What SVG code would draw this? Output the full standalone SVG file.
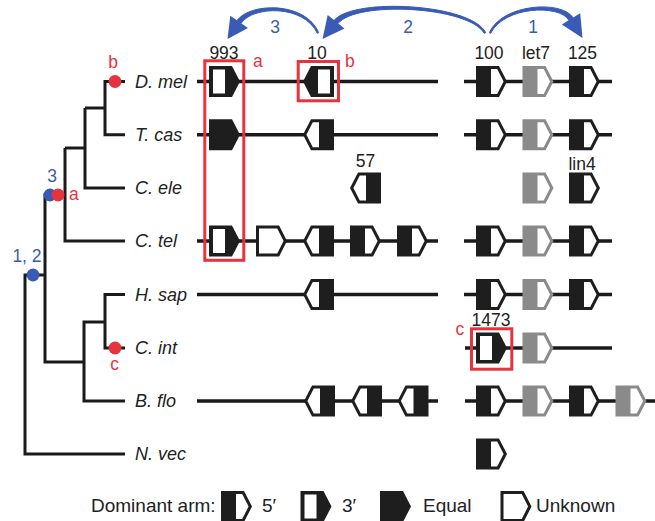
<svg xmlns="http://www.w3.org/2000/svg" xmlns:xlink="http://www.w3.org/1999/xlink" width="655" height="521" viewBox="0 0 655 521">
<style>
text{font-family:"Liberation Sans",Arial,Helvetica,sans-serif;fill:#222}
.num{font-size:17.5px;text-anchor:middle}
.sp{font-size:18px;font-style:italic}
.leg{font-size:19px}
.red{fill:#e5343d;font-size:17.5px}
.blue{fill:#3a5bb5;font-size:17.5px;text-anchor:middle}
.tree{fill:none;stroke:#1a1a1a;stroke-width:3;stroke-linejoin:miter}
.row{fill:none;stroke:#1a1a1a;stroke-width:3.5}
.box{fill:none;stroke:#e5343d;stroke-width:3}
.arc{fill:#3a5bb5;stroke:#3a5bb5;stroke-width:1;stroke-linejoin:round}
.head{fill:#3a5bb5}
</style>
<defs>
<path id="pent" d="M0,-15.5 H23 L31,0 L23,15.5 H0 Z"/>
<g id="f5"><use xlink:href="#pent" fill="#1e1e1e"/><path d="M15,-12.5 H21.2 L27.6,0 L21.2,12.5 H15 Z" fill="#fff"/></g>
<g id="g5"><use xlink:href="#pent" fill="#8a8a8a"/><path d="M15,-12.5 H21.2 L27.6,0 L21.2,12.5 H15 Z" fill="#fff"/></g>
<g id="f3"><use xlink:href="#pent" fill="#1e1e1e"/><rect x="4" y="-12" width="12" height="24" fill="#fff"/></g>
<g id="feq"><use xlink:href="#pent" fill="#1e1e1e"/></g>
<g id="fun"><path d="M1.5,-14 H22.2 L29.3,0 L22.2,14 H1.5 Z" fill="#fff" stroke="#1e1e1e" stroke-width="3"/></g>
</defs>

<g id="tree">
<path class="tree" d="M125,81.5 H105 V134.7 H125"/>
<path class="tree" d="M105,108 H85"/>
<path class="tree" d="M125,188 H85 V108"/>
<path class="tree" d="M85,148 H65"/>
<path class="tree" d="M125,241 H65 V148"/>
<path class="tree" d="M65,195 H45 V362 H84"/>
<path class="tree" d="M125,401 H84 V322 H105"/>
<path class="tree" d="M125,294.5 H105 V348 H125"/>
<path class="tree" d="M45,275 H25 V454 H125"/>
</g>

<g id="tree-markers">
<circle cx="115" cy="81.5" r="6.5" fill="#e5343d"/>
<text class="red" x="113" y="68" text-anchor="middle">b</text>
<circle cx="50" cy="195" r="6.5" fill="#3a5bb5"/>
<circle cx="58" cy="195" r="6.5" fill="#e5343d"/>
<text class="blue" x="52" y="182">3</text>
<text class="red" x="69" y="200">a</text>
<circle cx="33" cy="275" r="6.5" fill="#3a5bb5"/>
<text class="blue" x="27" y="262">1, 2</text>
<circle cx="115" cy="348" r="6.5" fill="#e5343d"/>
<text class="red" x="114.5" y="370" text-anchor="middle">c</text>
</g>

<g id="species">
<text class="sp" x="135" y="87.5">D. mel</text>
<text class="sp" x="135" y="140.7">T. cas</text>
<text class="sp" x="135" y="194">C. ele</text>
<text class="sp" x="135" y="247">C. tel</text>
<text class="sp" x="135" y="300.5">H. sap</text>
<text class="sp" x="135" y="354">C. int</text>
<text class="sp" x="135" y="407">B. flo</text>
<text class="sp" x="135" y="460">N. vec</text>
</g>

<g id="connectors">
<path class="row" d="M197,81.5 H438 M464,81.5 H612"/>
<path class="row" d="M197,134.7 H438 M464,134.7 H612"/>
<path class="row" d="M197,241 H438 M464,241 H612"/>
<path class="row" d="M197,294.5 H438 M464,294.5 H612"/>
<path class="row" d="M465,348 H612"/>
<path class="row" d="M197,401 H438 M465,401 H655"/>
<path class="arc" d="M318.7,32.7 C306,1.6 250.5,2 236.9,20.6 L241.1,23.4 C252.5,5.6 304,4.4 317.3,33.3 Z"/>
<polygon class="head" points="227.5,39 248,28 230.3,15.8"/>
<path class="arc" d="M485.7,32.6 C471,3.6 353.5,-2.8 334.1,20.4 L337.9,23.6 C356.3,0.3 469,6.4 484.3,33.4 Z"/>
<polygon class="head" points="322.5,39 344.5,28.6 327.7,15.1"/>
<path class="arc" d="M489.3,32.7 C502,3.8 561.5,-0.3 573.1,17.7 L568.9,20.3 C559.7,4.1 504,6.2 490.7,33.3 Z"/>
<polygon class="head" points="582.5,38 580.2,13.3 561.8,24.5"/>
</g>

<g id="arrow-labels">
<text class="blue" x="275" y="33">3</text>
<text class="blue" x="408" y="33">2</text>
<text class="blue" x="533" y="33">1</text>
</g>

<g id="gene-labels">
<text class="num" x="224" y="58.5">993</text>
<text class="num" x="317" y="58.5">10</text>
<text class="num" x="489" y="58.5">100</text>
<text class="num" x="536" y="58.5">let7</text>
<text class="num" x="582.5" y="58.5">125</text>
<text class="num" x="365.5" y="167">57</text>
<text class="num" x="582" y="170">lin4</text>
<text class="num" x="491" y="326">1473</text>
</g>

<g id="row-dmel">
<use xlink:href="#f3" x="209" y="81.5"/>
<use xlink:href="#f3" transform="translate(334,81.5) scale(-1,1)"/>
<use xlink:href="#f5" x="476" y="81.5"/>
<use xlink:href="#g5" x="522.5" y="81.5"/>
<use xlink:href="#f5" x="569" y="81.5"/>
</g>
<g id="row-tcas">
<use xlink:href="#feq" x="209" y="134.7"/>
<use xlink:href="#f5" transform="translate(334,134.7) scale(-1,1)"/>
<use xlink:href="#f5" x="476" y="134.7"/>
<use xlink:href="#g5" x="522.5" y="134.7"/>
<use xlink:href="#f5" x="569" y="134.7"/>
</g>
<g id="row-cele">
<use xlink:href="#f5" transform="translate(381,188) scale(-1,1)"/>
<use xlink:href="#g5" x="522.5" y="188"/>
<use xlink:href="#f5" x="569" y="188"/>
</g>
<g id="row-ctel">
<use xlink:href="#f3" x="209" y="241"/>
<use xlink:href="#fun" x="256" y="241"/>
<use xlink:href="#f5" transform="translate(334,241) scale(-1,1)"/>
<use xlink:href="#f5" x="350" y="241"/>
<use xlink:href="#f5" x="397" y="241"/>
<use xlink:href="#f5" x="476" y="241"/>
<use xlink:href="#g5" x="522.5" y="241"/>
<use xlink:href="#f5" x="569" y="241"/>
</g>
<g id="row-hsap">
<use xlink:href="#f5" transform="translate(334,294.5) scale(-1,1)"/>
<use xlink:href="#f5" x="476" y="294.5"/>
<use xlink:href="#g5" x="522.5" y="294.5"/>
<use xlink:href="#f5" x="569" y="294.5"/>
</g>
<g id="row-cint">
<use xlink:href="#f3" x="476" y="348"/>
<use xlink:href="#g5" x="522.5" y="348"/>
</g>
<g id="row-bflo">
<use xlink:href="#f5" transform="translate(335,401) scale(-1,1)"/>
<use xlink:href="#f5" transform="translate(382,401) scale(-1,1)"/>
<use xlink:href="#f5" transform="translate(428.5,401) scale(-1,1)"/>
<use xlink:href="#f5" x="476" y="401"/>
<use xlink:href="#g5" x="522.5" y="401"/>
<use xlink:href="#f5" x="569" y="401"/>
<use xlink:href="#g5" x="615.5" y="401"/>
</g>
<g id="row-nvec">
<use xlink:href="#f5" x="476" y="454"/>
</g>

<g id="highlights">
<rect class="box" x="204.8" y="60.8" width="39" height="199.5"/>
<text class="red" x="253" y="67">a</text>
<rect class="box" x="298.2" y="61.5" width="40.3" height="39.3"/>
<text class="red" x="345" y="67">b</text>
<rect class="box" x="471.5" y="328.8" width="40.3" height="40.4"/>
<text class="red" x="455.5" y="334.5">c</text>
</g>

<g id="legend">
<text class="leg" x="91" y="512">Dominant arm:</text>
<use xlink:href="#f5" x="221" y="506.5"/>
<text class="leg" x="262" y="512">5′</text>
<use xlink:href="#f3" x="300.5" y="506.5"/>
<text class="leg" x="342" y="512">3′</text>
<use xlink:href="#feq" x="380" y="506.5"/>
<text class="leg" x="423" y="512">Equal</text>
<use xlink:href="#fun" x="500.5" y="506.5"/>
<text class="leg" x="536" y="512">Unknown</text>
</g>
</svg>
